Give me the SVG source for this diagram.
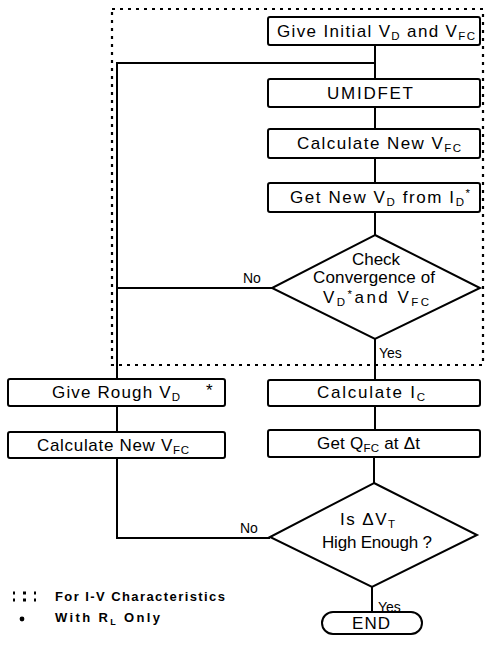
<svg xmlns="http://www.w3.org/2000/svg" width="485" height="645" viewBox="0 0 485 645">
<style>
.box{fill:#fff;stroke:#000;stroke-width:2}
.ln{fill:none;stroke:#000;stroke-width:2}
.dash{fill:none;stroke:#000;stroke-width:2.2;stroke-dasharray:3 5}
text{font-family:"Liberation Sans",Arial,sans-serif;font-size:17px;fill:#000}
.s{font-size:11.5px}
.sm{font-size:14px}
.lg{font-size:13px;font-weight:bold}
</style>
<rect x="0" y="0" width="485" height="645" fill="#fff"/>
<rect class="dash" x="112" y="9" width="371" height="356"/>
<g id="connectors">
<path class="ln" d="M375 45V79M375 107V129M375 158V183M375 212V235M375 339V380M375 406V430M374 457V483"/>
<path class="ln" d="M375 63H117V379M272 288H117M117 406V432M117 458V538H270M372 587V612"/>
</g>
<g id="n1"><rect class="box" x="268" y="17" width="212" height="28" rx="2"/>
<text x="277" y="37" textLength="198" lengthAdjust="spacing">Give Initial V<tspan class="s" dy="3">D</tspan><tspan dy="-3"> and V</tspan><tspan class="s" dy="3">FC</tspan></text></g>
<g id="n2"><rect class="box" x="268" y="79" width="212" height="28" rx="2"/><text x="327" y="99" textLength="86" lengthAdjust="spacing">UMIDFET</text></g>
<g id="n3"><rect class="box" x="268" y="129" width="212" height="29" rx="2"/>
<text x="297" y="149" textLength="164" lengthAdjust="spacing">Calculate New V<tspan class="s" dy="3">FC</tspan></text></g>
<g id="n4"><rect class="box" x="268" y="183" width="212" height="29" rx="2"/>
<text x="290" y="203" textLength="180" lengthAdjust="spacing">Get New V<tspan class="s" dy="3">D</tspan><tspan dy="-3"> from I</tspan><tspan class="s" dy="3">D</tspan><tspan class="s" dy="-9">*</tspan></text></g>
<g id="d1"><polygon class="box" points="375,235 480,288 375,339 272,288"/>
<text x="352" y="265" textLength="48" lengthAdjust="spacing">Check</text>
<text x="313" y="283" textLength="122" lengthAdjust="spacing">Convergence of</text>
<text x="323" y="303" textLength="106" lengthAdjust="spacing">V<tspan class="s" dy="3">D</tspan><tspan class="s" dy="-8">*</tspan><tspan dy="5">and V</tspan><tspan class="s" dy="3">FC</tspan></text>
<text class="sm" x="243" y="283">No</text><text class="sm" x="379" y="358">Yes</text></g>
<g id="n5"><rect class="box" x="8" y="379" width="217" height="27" rx="2"/>
<text x="52" y="398" textLength="128" lengthAdjust="spacing">Give Rough V<tspan class="s" dy="3">D</tspan></text><text x="206" y="396">*</text></g>
<g id="n6"><rect class="box" x="8" y="432" width="217" height="26" rx="2"/>
<text x="37" y="451" textLength="152" lengthAdjust="spacing">Calculate New V<tspan class="s" dy="3">FC</tspan></text></g>
<g id="n7"><rect class="box" x="268" y="380" width="212" height="26" rx="2"/>
<text x="317" y="398" textLength="108" lengthAdjust="spacing">Calculate I<tspan class="s" dy="3">C</tspan></text></g>
<g id="n8"><rect class="box" x="268" y="430" width="212" height="27" rx="2"/>
<text x="317" y="449" textLength="103" lengthAdjust="spacing">Get Q<tspan class="s" dy="3">FC</tspan><tspan dy="-3"> at Δt</tspan></text></g>
<g id="d2"><polygon class="box" points="374,483 477,535 372,587 270,537"/>
<text x="340" y="525" textLength="55" lengthAdjust="spacing">Is ΔV<tspan class="s" dy="3">T</tspan></text>
<text x="322" y="548" textLength="110" lengthAdjust="spacing">High Enough ?</text>
<text class="sm" x="240" y="533">No</text><text class="sm" x="378" y="612">Yes</text></g>
<g id="end"><rect class="box" x="322" y="612" width="100" height="22" rx="11"/><text x="352" y="629" textLength="38" lengthAdjust="spacing">END</text></g>
<g id="legend">
<path d="M13 593h2M23 593h3M34 593h2M13 600h2M23 600h3M34 600h2" stroke="#000" stroke-width="3"/>
<text class="lg" x="55" y="601" textLength="170" lengthAdjust="spacing">For I-V Characteristics</text>
<circle cx="22" cy="619" r="2.4"/>
<text class="lg" x="55" y="622" textLength="105" lengthAdjust="spacing">With R<tspan class="s" dy="3" style="font-size:9px">L</tspan><tspan dy="-3"> Only</tspan></text>
</g>
</svg>
